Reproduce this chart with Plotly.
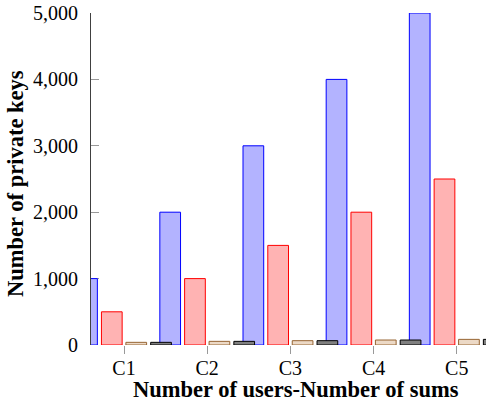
import plotly.graph_objects as go

categories = ["C1", "C2", "C3", "C4", "C5"]
positions = [1, 2, 3, 4, 5]
series_a = [1000, 2000, 3000, 4000, 5000]
series_b = [500, 1000, 1500, 2000, 2500]
series_c = [40, 55, 65, 75, 85]
series_d = [40, 55, 65, 75, 85]

W = 0.249
specs = [
    (series_a, -0.445, "rgb(179,179,255)", "rgb(0,0,255)"),
    (series_b, -0.147, "rgb(255,179,179)", "rgb(255,0,0)"),
    (series_c, 0.147, "rgb(236,217,198)", "rgb(150,100,50)"),
    (series_d, 0.445, "rgb(128,128,128)", "rgb(0,0,0)"),
]

fig = go.Figure()
for vals, center, fill, line in specs:
    fig.add_trace(go.Bar(
        x=positions, y=vals, width=W, offset=center - W / 2,
        marker=dict(color=fill, line=dict(color=line, width=1)),
        showlegend=False,
    ))

FONT = "Liberation Serif"
xr = [0.603, 5.352]
fig.update_layout(
    width=486, height=406,
    margin=dict(l=91, r=0, t=13, b=61),
    paper_bgcolor="white", plot_bgcolor="white",
    barmode="overlay",
    font=dict(family=FONT, size=20, color="black"),
    xaxis=dict(
        range=xr, tickvals=positions, ticktext=categories,
        showline=False, showgrid=False, zeroline=False,
        ticks="outside", ticklen=8, tickcolor="#999", tickwidth=1,
        ticklabelstandoff=-3,
    ),
    xaxis2=dict(
        range=xr, tickvals=positions, ticktext=["" for _ in categories],
        overlaying="x", side="top", anchor="y", matches="x",
        showline=True, linecolor="#404040", linewidth=1,
        showgrid=False, zeroline=False,
        ticks="outside", ticklen=8, tickcolor="#999", tickwidth=1,
        showticklabels=False,
    ),
    yaxis=dict(
        range=[0, 5000], dtick=1000, tickformat=",d",
        showline=True, linecolor="#404040", linewidth=1,
        showgrid=False, zeroline=False,
        ticks="inside", ticklen=8, tickcolor="#999", tickwidth=1,
        ticklabelstandoff=8, layer="below traces",
    ),
    yaxis2=dict(
        range=[0, 5000], dtick=1000, overlaying="y", side="right",
        anchor="x", matches="y",
        showline=False, showgrid=False, zeroline=False,
        ticks="inside", ticklen=5, tickcolor="#999", tickwidth=1,
        showticklabels=False,
    ),
    annotations=[
        dict(text="<b>Number of users-Number of sums</b>", xref="paper", yref="paper",
             x=0.520, y=-0.134, xanchor="center", yanchor="middle", showarrow=False,
             font=dict(family=FONT, size=22.5)),
        dict(text="<b>Number of private keys</b>", xref="paper", yref="paper",
             x=-0.19, y=0.488, xanchor="center", yanchor="middle", textangle=-90,
             showarrow=False, font=dict(family=FONT, size=22.5)),
    ],
)

fig.write_html("out.html")
